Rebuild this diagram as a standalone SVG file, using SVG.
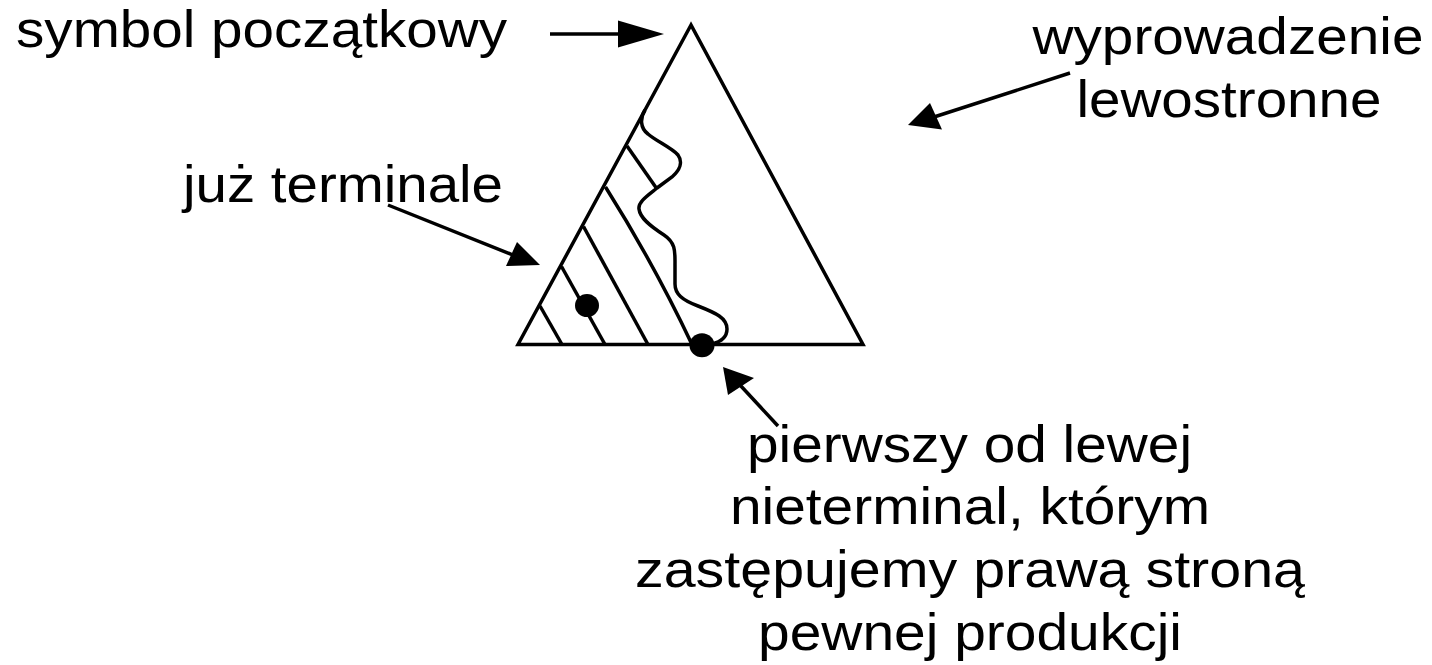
<svg xmlns="http://www.w3.org/2000/svg" width="1432" height="665" viewBox="0 0 1432 665">
<style>
text{font-family:"Liberation Sans",Arial,sans-serif;font-size:52px;fill:#000}
.ln{fill:none;stroke:#000;stroke-width:3.5;stroke-linejoin:miter}
.ah{fill:#000;stroke:none}
</style>
<rect width="1432" height="665" fill="#fff"/>
<g id="tree">
<polygon class="ln" points="691,25 518,344.5 863,344.5"/>
<g id="hatch">
<line class="ln" x1="540" y1="306" x2="562" y2="344.5"/>
<line class="ln" x1="561.5" y1="266.5" x2="605" y2="344.5"/>
<line class="ln" x1="583.5" y1="226.5" x2="648" y2="344.5"/>
<path class="ln" d="M605.5,187 Q654,264 692,344.5"/>
<line class="ln" x1="627" y1="146" x2="657" y2="189"/>
</g>
<path id="frontier" class="ln" d="M645,110 C640,118 640,128 648,134 C656,141 672,148 678,155 C683,162 680,170 672,177 L657,188 C647,196 638,202 639,209 C640,218 650,226 664,235 C676,243 675,252 675,265 L675,284 C675,294 682,300 698,306 C716,313 727,318 727,329 C727,338 720,342 712,344"/>
<ellipse id="dot1" cx="587" cy="305.5" rx="12" ry="11.5" fill="#000"/>
<ellipse id="dot2" cx="702" cy="345.3" rx="12.5" ry="12" fill="#000"/>
</g>
<g id="connectors">
<line class="ln" x1="550" y1="34" x2="620" y2="34"/>
<polygon class="ah" points="664,34 618,20.5 618,47.5"/>
<line class="ln" x1="1070" y1="73" x2="934" y2="117"/>
<polygon class="ah" points="908,125 930,103 942,129.5"/>
<line class="ln" x1="388" y1="205" x2="513" y2="255"/>
<polygon class="ah" points="540,265 506,266 517,242"/>
<line class="ln" x1="778" y1="426" x2="740" y2="385"/>
<polygon class="ah" points="723,367 728,395 754,378"/>
</g>
<g id="label-start"><text x="16" y="47" textLength="491" lengthAdjust="spacingAndGlyphs">symbol początkowy</text></g>
<g id="label-left">
<text x="1228" y="54" text-anchor="middle" textLength="391" lengthAdjust="spacingAndGlyphs">wyprowadzenie</text>
<text x="1229" y="117" text-anchor="middle" textLength="305" lengthAdjust="spacingAndGlyphs">lewostronne</text>
</g>
<g id="label-term"><text x="183" y="202" textLength="320" lengthAdjust="spacingAndGlyphs">już terminale</text></g>
<g id="label-nonterm">
<text x="969.5" y="462" text-anchor="middle" textLength="445" lengthAdjust="spacingAndGlyphs">pierwszy od lewej</text>
<text x="970" y="524" text-anchor="middle" textLength="480" lengthAdjust="spacingAndGlyphs">nieterminal, którym</text>
<text x="970" y="587" text-anchor="middle" textLength="670" lengthAdjust="spacingAndGlyphs">zastępujemy prawą stroną</text>
<text x="970" y="650" text-anchor="middle" textLength="424" lengthAdjust="spacingAndGlyphs">pewnej produkcji</text>
</g>
</svg>
